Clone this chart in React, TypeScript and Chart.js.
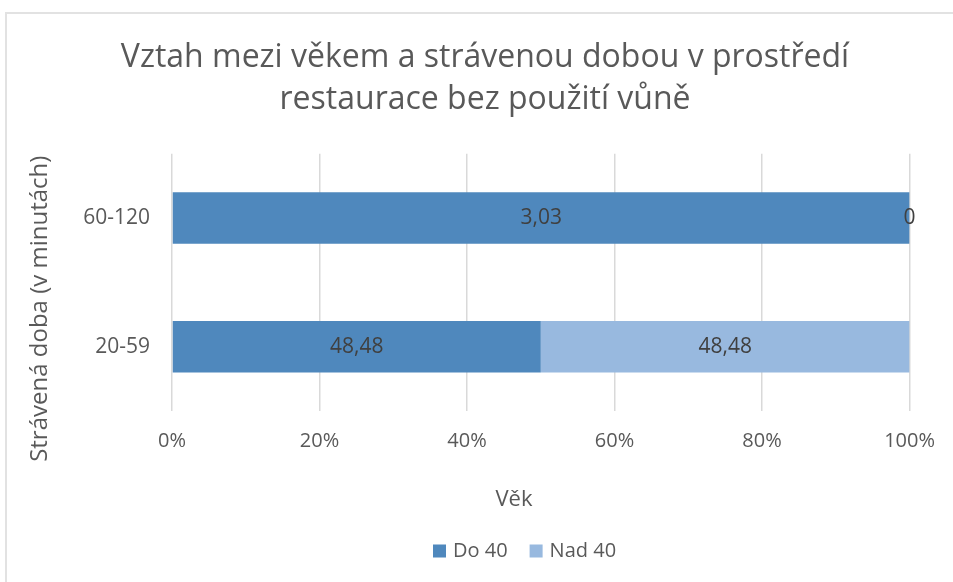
import React, { useEffect, useRef } from "react";
import { Chart, registerables } from "chart.js";

Chart.register(...registerables);

const categories = ["60-120", "20-59"];
const seriesNames = ["Do 40", "Nad 40"];
const do40Values = [3.03, 48.48];
const nad40Values = [0, 48.48];
const xTicks = [0, 20, 40, 60, 80, 100];
const titleLines = ["Vztah mezi věkem a strávenou dobou v prostředí", "restaurace bez použití vůně"];
const xAxisTitle = "Věk";
const yAxisTitle = "Strávená doba (v minutách)";

const FONT = "'Open Sans', 'DejaVu Sans', sans-serif";
const DARK = "#4f88bd";
const LIGHT = "#98b9df";
const seriesColors = [DARK, LIGHT];

const fmt = (v: number) => String(v).replace(".", ",");

export default function App() {
  const ref = useRef<HTMLCanvasElement | null>(null);
  useEffect(() => {
    document.body.style.margin = "0";
    const totals = categories.map((_, i) => do40Values[i] + nad40Values[i]);
    const pct = (arr: number[]) => arr.map((v, i) => (totals[i] ? (v / totals[i]) * 100 : 0));
    const raw = [do40Values, nad40Values];

    const labelsPlugin = {
      id: "segLabels",
      afterDatasetsDraw(chart: any) {
        const ctx = chart.ctx;
        ctx.save();
        ctx.font = `21px ${FONT}`;
        ctx.fillStyle = "#404040";
        ctx.textAlign = "center";
        ctx.textBaseline = "middle";
        chart.data.datasets.forEach((ds: any, di: number) => {
          const meta = chart.getDatasetMeta(di);
          meta.data.forEach((el: any, i: number) => {
            const cx = (el.x + el.base) / 2;
            ctx.fillText(fmt(raw[di][i]), cx, el.y);
          });
        });
        ctx.restore();
      },
    };

    const extras = {
      id: "extras",
      afterDraw(chart: any) {
        const ctx = chart.ctx;
        const a = chart.chartArea;
        ctx.save();
        ctx.fillStyle = "#595959";
        ctx.textBaseline = "middle";
        // x axis title
        ctx.font = `22px ${FONT}`;
        ctx.textAlign = "center";
        ctx.fillText(xAxisTitle, a.left + 342, a.bottom + 89);
        // legend
        ctx.font = `20px ${FONT}`;
        ctx.textAlign = "left";
        let x = a.left + 261;
        const ly = a.bottom + 140;
        chart.data.datasets.forEach((ds: any, di: number) => {
          ctx.fillStyle = seriesColors[di];
          ctx.fillRect(x, ly - 6.5, 13, 13);
          ctx.fillStyle = "#595959";
          ctx.fillText(ds.label, x + 20, ly);
          x += 20 + ctx.measureText(ds.label).width + 22;
        });
        // y axis title
        ctx.font = `24px ${FONT}`;
        ctx.textAlign = "center";
        ctx.translate(40, a.top + 155);
        ctx.rotate(-Math.PI / 2);
        ctx.fillText(yAxisTitle, 0, 0);
        ctx.restore();
      },
    };

    const chart = new Chart(ref.current!, {
      type: "bar",
      data: {
        labels: categories,
        datasets: [
          { label: seriesNames[0], data: pct(do40Values), backgroundColor: DARK, borderWidth: 0, categoryPercentage: 0.8, barPercentage: 0.5 },
          { label: seriesNames[1], data: pct(nad40Values), backgroundColor: LIGHT, borderWidth: 0, categoryPercentage: 0.8, barPercentage: 0.5 },
        ],
      },
      options: {
        indexAxis: "y",
        animation: false,
        responsive: false,
        layout: { padding: { left: 60, right: 43, top: 0, bottom: 111 } },
        plugins: {
          title: {
            display: true,
            text: titleLines,
            color: "#595959",
            font: { family: FONT, size: 32, weight: "normal", lineHeight: 1.34 },
            padding: { top: 36, bottom: 32 },
          },
          legend: { display: false },
          tooltip: { enabled: false },
        },
        scales: {
          x: {
            stacked: true,
            min: 0,
            max: 100,
            afterBuildTicks: (s: any) => { s.ticks = xTicks.map((v) => ({ value: v })); },
            ticks: {
              color: "#595959",
              font: { family: FONT, size: 20 },
              padding: 18,
              callback: (v: any) => v + "%",
            },
            grid: { color: "#d9d9d9", lineWidth: 1.5, drawTicks: false },
            border: { display: false },
          },
          y: {
            stacked: true,
            afterFit: (s: any) => { s.width = 112; },
            ticks: { color: "#595959", font: { family: FONT, size: 21 }, padding: 22 },
            grid: { display: false, drawTicks: false },
            border: { display: false },
          },
        },
      },
      plugins: [labelsPlugin, extras],
    });
    return () => chart.destroy();
  }, []);

  return (
    <div style={{ position: "relative", width: 953, height: 582, overflow: "hidden", background: "#fff" }}>
      <div style={{ position: "absolute", left: 5, top: 12, width: 1000, height: 1000, border: "2px solid #e2e2e2", boxSizing: "border-box" }} />
      <canvas ref={ref} width={953} height={582} style={{ position: "absolute", left: 0, top: 0 }} />
    </div>
  );
}
